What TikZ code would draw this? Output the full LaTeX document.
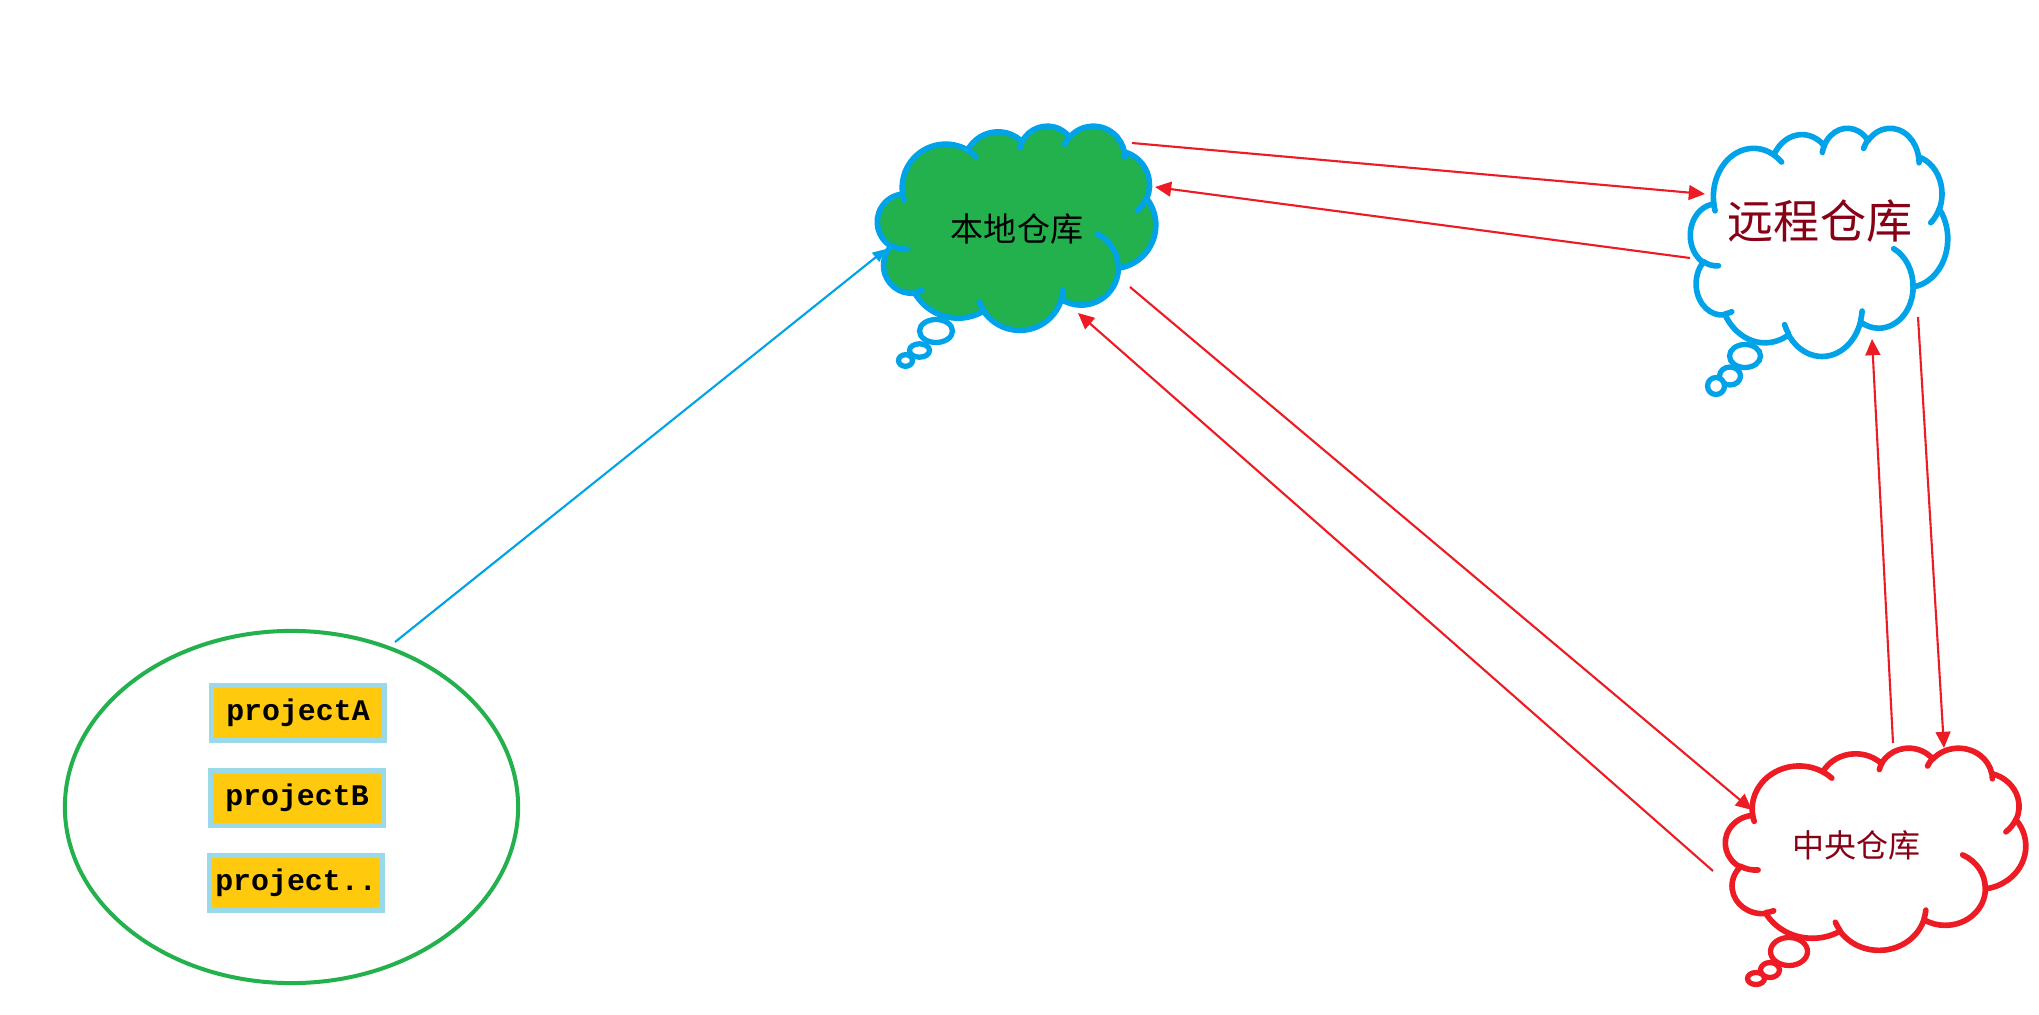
\documentclass[tikz,border=0pt]{standalone}
\usepackage{fontspec}
\newfontfamily\cjk{Noto Sans CJK SC}
\newfontfamily\pmono{Liberation Mono}
\usetikzlibrary{arrows.meta,shapes.geometric}
\definecolor{pred}{HTML}{ED1C24}
\definecolor{pblue}{HTML}{00A2E8}
\definecolor{pgreen}{HTML}{22B14C}
\definecolor{plblue}{HTML}{99D9EA}
\definecolor{pgold}{HTML}{FFC90E}
\definecolor{pdred}{HTML}{880015}

\pgfmathdeclarefunction{vpar}{3}{\begingroup\pgfmathparse{atan2((#1)*sin(#3),(#2)*cos(#3))}\pgfmathsmuggle\pgfmathresult\endgroup}

\tikzset{
  oarc/.style args={#1/#2/#3/#4}{insert path={arc[x radius={#1*\cW*1cm}, y radius={#2*\cH*1cm}, start angle={-vpar(#1,#2,#3)}, delta angle={-(vpar(#1,#2,#3+#4)-vpar(#1,#2,#3)+360*round(((#4)-(vpar(#1,#2,#3+#4)-vpar(#1,#2,#3)))/360))}]}},
  cloudline/.style={line width=1.6pt, line join=round, line cap=round},
  redarrow/.style={draw=pred, line width=0.6pt, -{Triangle[length=4.6pt,width=4.2pt]}},
  bluearrow/.style={draw=pblue, line width=0.6pt, -{Triangle[length=3.8pt,width=3.2pt]}},
  projbox/.style={draw=plblue, fill=pgold, line width=1.42pt, minimum width=1.73cm, minimum height=0.55cm, inner sep=0pt, font=\pmono\bfseries\fontsize{8.5pt}{10pt}\selectfont},
  bubble/.style={fill=white, line width=1.5pt},
}

\newcommand\ocloud[6]{%
\begin{scope}[shift={(#1,#2)}, x=#3cm, y=-#4cm]
\def\cW{#3}\def\cH{#4}
\path[cloudline, draw=#5, fill=#6] (0.09028,0.33264)
 [oarc=0.15632/0.21273/-190.48748/123.78053]
 [oarc=0.12345/0.16822/-144.10238/89.94523]
 [oarc=0.10104/0.13762/-145.80792/99.72302]
 [oarc=0.11243/0.15266/-130.98607/117.24173]
 [oarc=0.12345/0.16836/-78.70888/109.02692]
 [oarc=0.15683/0.21343/-46.26725/130.269]
 [oarc=0.13391/0.18211/0.62502/114.03333]
 [oarc=0.15630/0.21331/22.4516/115.17255]
 [oarc=0.17870/0.24405/66.24263/75.71102]
 [oarc=0.10093/0.13699/-274.94208/146.73557]
 [oarc=0.10058/0.13762/-246.8285/152.51885] -- cycle;
\path[cloudline, draw=#5]
 (0.10863,0.60595) [oarc=0.10058/0.13762/86.742/26.4295]
 (0.16037,0.80785) [oarc=0.10093/0.13699/73.61047/11.44747]
 (0.38144,0.90486) [oarc=0.15630/0.21331/137.62415/14.0811]
 (0.66729,0.80442) [oarc=0.15630/0.21331/6.45327/15.99835]
 (0.79002,0.53134) [oarc=0.13391/0.18211/-70.29235/70.91737]
 (0.96755,0.35542) [oarc=0.12345/0.16836/30.31803/27.7515]
 (0.88713,0.12560) [oarc=0.11243/0.15266/-13.74433/14.8589]
 (0.67310,0.09148) [oarc=0.11243/0.15266/-149.18145/18.19537]
 (0.51252,0.10926) [oarc=0.10104/0.13762/-163.49427/17.68635]
 (0.32407,0.12019) [oarc=0.15632/0.21273/-66.70695/12.31935]
 (0.09553,0.36549) [oarc=0.15632/0.21273/157.65435/11.85817];
\end{scope}}

\begin{document}
\begin{tikzpicture}[x=0.01cm, y=-0.01cm]
\fill[white] (0,0) rectangle (2039,1015);
\useasboundingbox (0,0) rectangle (2039,1015);

% clouds
\ocloud{877.5}{125.5}{2.78}{2.04}{pblue}{pgreen}
\ocloud{1690.5}{127.5}{2.57}{2.28}{pblue}{white}
\ocloud{1725.5}{747.5}{3.00}{2.02}{pred}{white}

% thought bubbles
\draw[bubble, draw=pblue] (936,331) ellipse [x radius=0.165cm, y radius=0.115cm];
\draw[bubble, draw=pblue] (919.5,350.5) ellipse [x radius=0.10cm, y radius=0.067cm];
\draw[bubble, draw=pblue] (905.5,360.5) ellipse [x radius=0.07cm, y radius=0.058cm];
\draw[bubble, draw=pblue] (1745,356) ellipse [x radius=0.155cm, y radius=0.115cm];
\draw[bubble, draw=pblue] (1730,376) ellipse [x radius=0.105cm, y radius=0.09cm];
\draw[bubble, draw=pblue] (1716,386) ellipse [x radius=0.085cm, y radius=0.085cm];
\draw[bubble, draw=pred] (1789,951.5) ellipse [x radius=0.185cm, y radius=0.14cm];
\draw[bubble, draw=pred] (1770,970) ellipse [x radius=0.095cm, y radius=0.075cm];
\draw[bubble, draw=pred] (1756,978.5) ellipse [x radius=0.085cm, y radius=0.06cm];

% cloud labels
\node[font=\cjk\fontsize{9.4pt}{11pt}\selectfont] (local) at (1017,229) {本地仓库};
\node[font=\cjk\fontsize{13.1pt}{15pt}\selectfont, text=pdred] (remote) at (1820,221) {远程仓库};
\node[font=\cjk\fontsize{9.1pt}{11pt}\selectfont, text=pdred] (central) at (1856,845) {中央仓库};

% project group
\node[ellipse, draw=pgreen, line width=1.14pt, minimum width=4.53cm, minimum height=3.52cm, inner sep=0pt] (group) at (291.5,807) {};
\node[projbox] (pa) at (298,713) {projectA};
\node[projbox] (pb) at (297,798) {projectB};
\node[projbox] (pc) at (296,883) {project..};

% connector end points
\coordinate (l1) at (1132,143); \coordinate (r1) at (1705,194);
\coordinate (r2) at (1690,258); \coordinate (l2) at (1155,187);
\coordinate (l3) at (1130,287); \coordinate (c3) at (1752,810);
\coordinate (c4) at (1713,871); \coordinate (l4) at (1078,313);
\coordinate (c5) at (1893,743); \coordinate (r5) at (1872,339);
\coordinate (r6) at (1918,317); \coordinate (c6) at (1944,748);
\coordinate (g1) at (395,642);  \coordinate (l7) at (886,249);

\draw[redarrow] (l1) -- (r1);
\draw[redarrow] (r2) -- (l2);
\draw[redarrow] (l3) -- (c3);
\draw[redarrow] (c4) -- (l4);
\draw[redarrow] (c5) -- (r5);
\draw[redarrow] (r6) -- (c6);
\draw[bluearrow] (g1) -- (l7);
\end{tikzpicture}
\end{document}
